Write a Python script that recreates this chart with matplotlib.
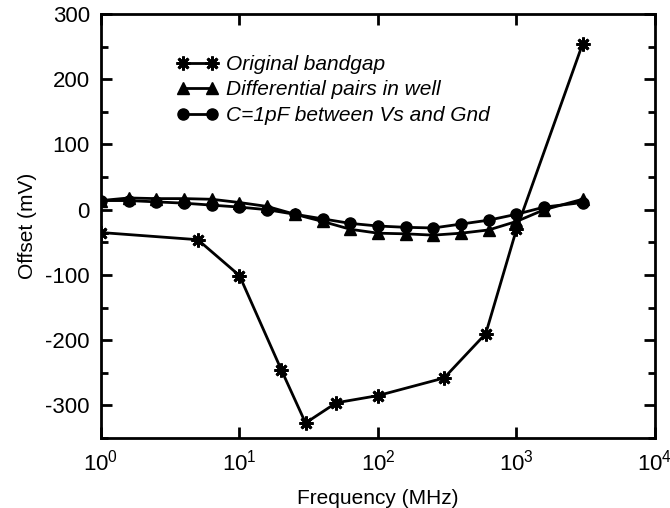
import matplotlib.pyplot as plt
from matplotlib.ticker import LogLocator, MultipleLocator, NullLocator

plt.rcParams['font.family'] = ['Liberation Sans', 'DejaVu Sans']
plt.rcParams['axes.unicode_minus'] = False

# Data
freq_orig = [1, 5, 10, 20, 30, 50, 100, 300, 600, 1000, 3000]
offset_orig = [-35, -46, -101, -245, -327, -296, -285, -258, -190, -30, 254]

freq_sweep = [1, 1.585, 2.512, 3.981, 6.31, 10, 15.85, 25.12, 39.81, 63.1,
              100, 158.5, 251.2, 398.1, 631, 1000, 1585, 3000]
offset_diff = [14, 18, 17, 17, 16, 11, 5, -7, -18, -30,
               -36, -37, -39, -36, -31, -18, 0, 16]
offset_cap = [14, 14, 12, 10, 7, 4, 0, -7, -14, -21,
              -25, -27, -28, -22, -16, -7, 4, 11]

labels = ["Original bandgap", "Differential pairs in well",
          "C=1pF between Vs and Gnd"]

# Charting
fig = plt.figure(figsize=(6.7, 5.08), dpi=100)
ax = fig.add_axes([0.1507, 0.1378, 0.8269, 0.8346])

ax.plot(freq_orig, offset_orig, color="black", linewidth=2,
        marker=(8, 2, 0), markersize=10, markeredgewidth=2, label=labels[0])
ax.plot(freq_sweep, offset_diff, color="black", linewidth=2,
        marker="^", markersize=8, label=labels[1])
ax.plot(freq_sweep, offset_cap, color="black", linewidth=2,
        marker="o", markersize=8, label=labels[2])

# Arrangements
ax.set_xscale("log")
ax.set_xlim(1, 1e4)
ax.set_ylim(-350, 300)
ax.xaxis.set_major_locator(LogLocator(base=10, numticks=10))
ax.xaxis.set_minor_locator(NullLocator())
ax.yaxis.set_major_locator(MultipleLocator(100))
ax.yaxis.set_minor_locator(MultipleLocator(50))
ax.tick_params(which="both", direction="in", top=True, right=True,
               width=2, labelsize=16, pad=8)
ax.tick_params(which="major", length=8)
ax.tick_params(which="minor", length=5)
for s in ax.spines.values():
    s.set_linewidth(2)

ax.set_xlabel("Frequency (MHz)", fontsize=15, labelpad=10)
ax.set_ylabel("Offset (mV)", fontsize=15, labelpad=6)

ax.legend(loc="upper left", bbox_to_anchor=(0.103, 0.948), frameon=False,
          numpoints=2, handlelength=2.0,
          prop={"style": "italic", "size": 15}, labelspacing=0.32,
          handletextpad=0.35)

fig.savefig("out.png", dpi=100)
